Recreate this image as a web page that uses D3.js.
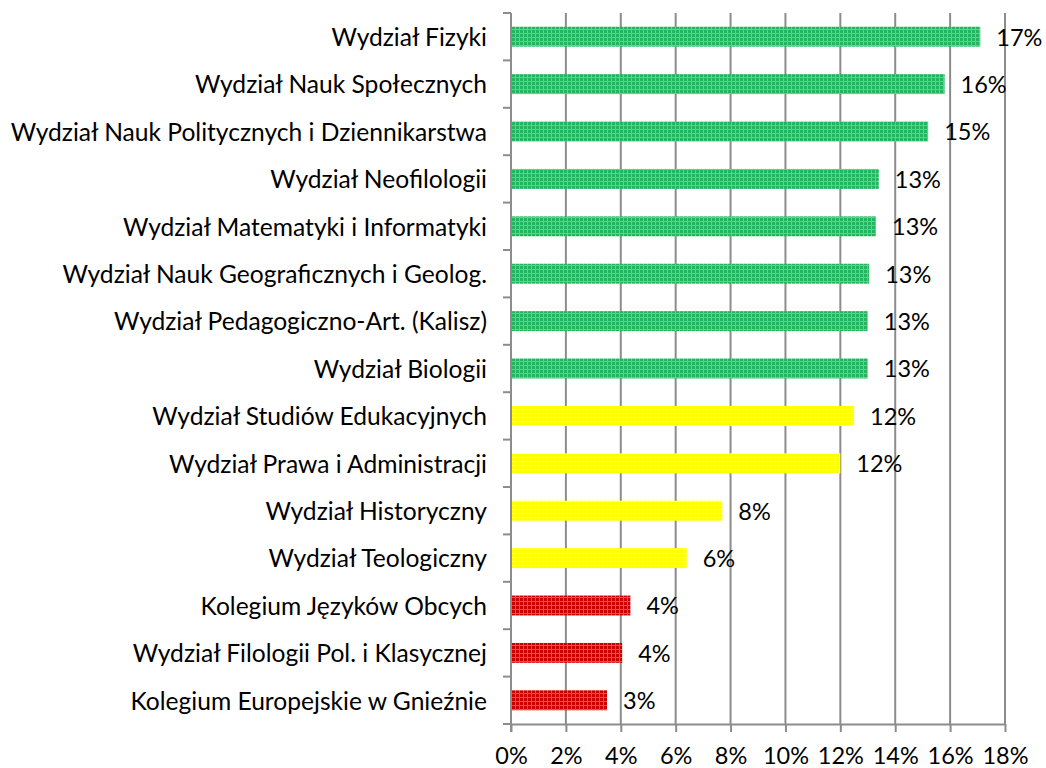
<!DOCTYPE html>
<html>
<head>
<meta charset="utf-8">
<script src="https://cdn.jsdelivr.net/npm/d3@7"></script>
<style>
  body { margin: 0; background: #fff; }
  svg text { font-family: Lato, "Open Sans", sans-serif; fill: #000; }
</style>
</head>
<body>
<svg width="1046" height="768"></svg>
<script>
// categories, top to bottom
const faculties = [
  "Wydział Fizyki",
  "Wydział Nauk Społecznych",
  "Wydział Nauk Politycznych i Dziennikarstwa",
  "Wydział Neofilologii",
  "Wydział Matematyki i Informatyki",
  "Wydział Nauk Geograficznych i Geolog.",
  "Wydział Pedagogiczno-Art. (Kalisz)",
  "Wydział Biologii",
  "Wydział Studiów Edukacyjnych",
  "Wydział Prawa i Administracji",
  "Wydział Historyczny",
  "Wydział Teologiczny",
  "Kolegium Języków Obcych",
  "Wydział Filologii Pol. i Klasycznej",
  "Kolegium Europejskie w Gnieźnie"
];
const shares = [17.1, 15.8, 15.2, 13.4, 13.3, 13.05, 13.0, 13.0, 12.5, 12.0, 7.7, 6.4, 4.35, 4.05, 3.5];
const labels = ["17%", "16%", "15%", "13%", "13%", "13%", "13%", "13%", "12%", "12%", "8%", "6%", "4%", "4%", "3%"];
const groups = ["green", "green", "green", "green", "green", "green", "green", "green",
                "yellow", "yellow", "yellow", "yellow", "red", "red", "red"];
const xTicks = [0, 2, 4, 6, 8, 10, 12, 14, 16, 18];

const svg = d3.select("svg");
const margin = {top: 13, left: 511, right: 41, bottom: 44};
const width = 1046 - margin.left - margin.right,
      height = 768 - margin.top - margin.bottom;
const fontSize = "23.5px";

const fills = {
  green:  {base: "#22b65e", light: "#62cf8e"},
  yellow: {base: "#ffff00", light: "#ffff90"},
  red:    {base: "#cc0000", light: "#e05050"}
};

const defs = svg.append("defs");
Object.entries(fills).forEach(([k, c]) => {
  const p = defs.append("pattern")
      .attr("id", "pat-" + k)
      .attr("patternUnits", "userSpaceOnUse")
      .attr("width", 4).attr("height", 4);
  p.append("rect").attr("width", 4).attr("height", 4).attr("fill", c.base);
  p.append("rect").attr("x", 0).attr("y", 0).attr("width", 4).attr("height", 1).attr("fill", c.light);
  p.append("rect").attr("x", 0).attr("y", 0).attr("width", 1).attr("height", 4).attr("fill", c.light);
});

const x = d3.scaleLinear().domain([0, 18]).range([0, width]);
const y = d3.scaleBand().domain(faculties).range([0, height]).paddingInner(0.58).paddingOuter(0.29);

const g = svg.append("g").attr("transform", `translate(${margin.left},${margin.top})`);

// vertical gridlines
g.selectAll(".grid")
  .data(xTicks.slice(1))
  .enter().append("line")
    .attr("x1", d => x(d)).attr("x2", d => x(d))
    .attr("y1", 0).attr("y2", height)
    .attr("stroke", "#8c8c8c").attr("stroke-width", 2);

// bars
g.selectAll(".bar")
  .data(faculties)
  .enter().append("rect")
    .attr("x", 1)
    .attr("y", d => y(d))
    .attr("width", (d, i) => x(shares[i]) - 1)
    .attr("height", y.bandwidth())
    .attr("fill", (d, i) => `url(#pat-${groups[i]})`);

// value labels
g.selectAll(".val")
  .data(faculties)
  .enter().append("text")
    .attr("x", (d, i) => x(shares[i]) + 16)
    .attr("y", d => y(d) + y.bandwidth() / 2)
    .attr("dy", "0.38em")
    .style("font-size", fontSize)
    .text((d, i) => labels[i]);

// x axis
const xAxis = g.append("g")
    .attr("transform", `translate(0,${height})`)
    .call(d3.axisBottom(x).tickValues(xTicks).tickFormat(d => d + "%").tickSize(8).tickSizeOuter(0).tickPadding(15));
xAxis.select(".domain").attr("stroke", "#8c8c8c").attr("stroke-width", 2);
xAxis.selectAll(".tick line").attr("stroke", "#8c8c8c").attr("stroke-width", 2);
xAxis.selectAll("text").style("font-size", fontSize).attr("font-family", null);

// y axis with ticks between categories
const yAxis = g.append("g");
yAxis.append("line")
    .attr("x1", 0).attr("x2", 0).attr("y1", 0).attr("y2", height + 8)
    .attr("stroke", "#8c8c8c").attr("stroke-width", 2);
const step = y.step();
yAxis.selectAll(".ytick")
  .data(d3.range(faculties.length + 1))
  .enter().append("line")
    .attr("x1", -8).attr("x2", 0)
    .attr("y1", i => i * step).attr("y2", i => i * step)
    .attr("stroke", "#8c8c8c").attr("stroke-width", 2);
yAxis.selectAll(".ylab")
  .data(faculties)
  .enter().append("text")
    .attr("x", -24)
    .attr("y", d => y(d) + y.bandwidth() / 2)
    .attr("dy", "0.38em")
    .attr("text-anchor", "end")
    .style("font-size", "24.6px")
    .text(d => d);
</script>
</body>
</html>
